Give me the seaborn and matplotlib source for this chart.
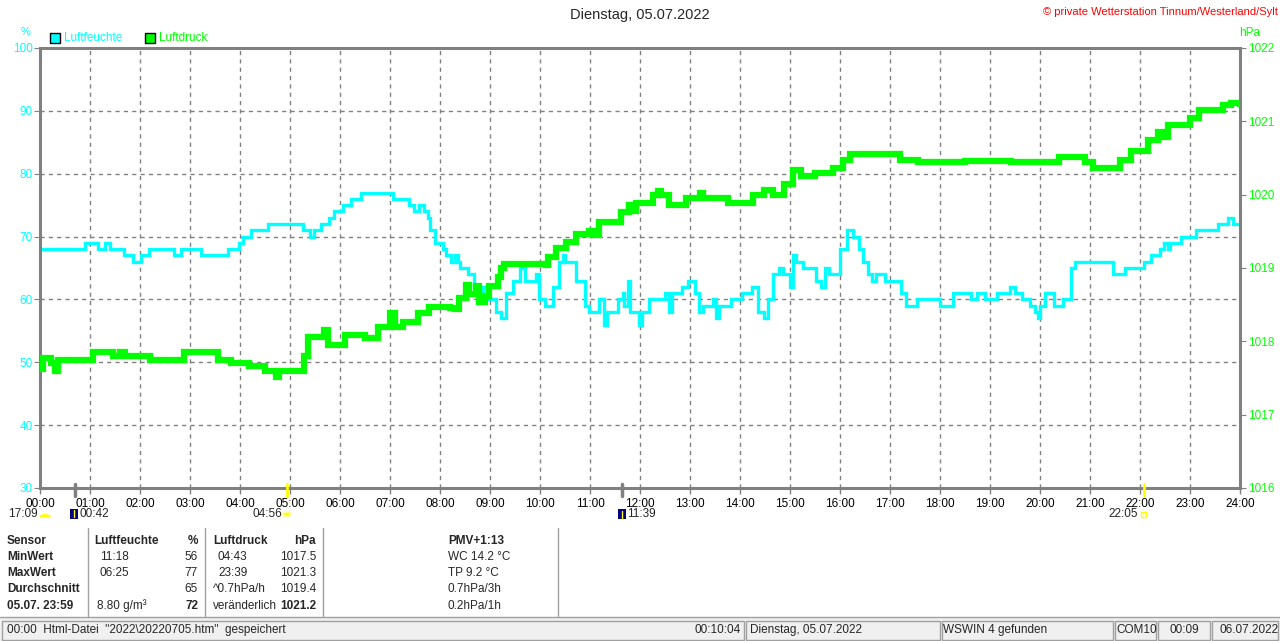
import matplotlib
matplotlib.use("Agg")
import matplotlib.pyplot as plt
import matplotlib.patches as mpatches
from matplotlib.lines import Line2D
import numpy as np
import pandas as pd
import seaborn as sns

# --- data (hours since midnight) ---
hum_hours = [0.0, 0.9, 1.15, 1.3, 1.4, 1.68, 1.86, 2.02, 2.18, 2.68, 2.82, 3.22, 3.75,
             3.98, 4.05, 4.22, 4.55, 5.25, 5.4, 5.48, 5.62, 5.78, 5.88, 6.05, 6.22,
             6.42, 7.05, 7.38, 7.48, 7.58, 7.68, 7.75, 7.8, 7.9, 8.05, 8.12, 8.22,
             8.3, 8.36, 8.4, 8.55, 8.68, 8.78, 8.85, 8.98, 9.12, 9.22, 9.32, 9.45,
             9.6, 9.7, 9.92, 9.97, 10.1, 10.25, 10.38, 10.45, 10.5, 10.72, 10.9,
             10.98, 11.18, 11.28, 11.33, 11.55, 11.65, 11.68, 11.75, 11.8, 11.97,
             12.03, 12.18, 12.5, 12.57, 12.64, 12.84, 12.95, 13.1, 13.18, 13.25,
             13.45, 13.52, 13.57, 13.82, 14.03, 14.23, 14.35, 14.48, 14.55, 14.65,
             14.78, 14.85, 15.0, 15.05, 15.12, 15.25, 15.52, 15.62, 15.7, 15.78,
             16.0, 16.13, 16.25, 16.37, 16.45, 16.55, 16.65, 16.72, 16.9, 17.22,
             17.33, 17.53, 18.0, 18.25, 18.62, 18.73, 18.9, 19.15, 19.4, 19.5,
             19.65, 19.8, 19.9, 19.95, 20.0, 20.1, 20.28, 20.45, 20.62, 20.7,
             21.45, 21.7, 22.08, 22.22, 22.4, 22.48, 22.55, 22.6, 22.82, 23.12,
             23.55, 23.75, 23.85, 24.0]
hum_values = [68, 69, 68, 69, 68, 67, 66, 67, 68, 67, 68, 67, 68,
              69, 70, 71, 72, 71, 70, 71, 72, 73, 74, 75, 76,
              77, 76, 75, 74, 75, 74, 73, 71, 69, 68, 67, 66,
              67, 66, 65, 64, 62, 61, 62, 60, 58, 57, 61, 63,
              65, 63, 64, 60, 59, 62, 66, 67, 66, 63, 59,
              58, 60, 56, 58, 60, 61, 59, 63, 58, 56,
              58, 60, 61, 58, 61, 62, 63, 61, 58, 59,
              60, 57, 59, 60, 61, 62, 58, 57, 60, 64,
              65, 64, 62, 67, 66, 65, 63, 62, 65, 64,
              68, 71, 70, 68, 66, 64, 63, 64, 63, 61,
              59, 60, 59, 61, 60, 61, 60, 61, 62, 61,
              60, 59, 58, 57, 59, 61, 59, 60, 65, 66,
              64, 65, 66, 67, 68, 69, 68, 69, 70, 71,
              72, 73, 72, 72]

press_hours = [0.0, 0.05, 0.22, 0.3, 0.35, 1.05, 1.45, 1.6, 1.7, 2.2, 2.88, 3.55, 3.82,
               4.18, 4.5, 4.72, 4.78, 5.28, 5.35, 5.68, 5.75, 6.1, 6.5, 6.75, 7.0,
               7.1, 7.25, 7.55, 7.78, 8.2, 8.3, 8.38, 8.52, 8.58, 8.72, 8.78, 8.9,
               8.98, 9.15, 9.22, 9.27, 10.12, 10.16, 10.32, 10.52, 10.72, 10.98,
               11.05, 11.18, 11.62, 11.78, 11.85, 11.92, 12.25, 12.35, 12.42, 12.57,
               12.92, 13.2, 13.25, 13.75, 14.25, 14.48, 14.65, 14.88, 15.05, 15.22,
               15.5, 15.85, 16.05, 16.2, 17.2, 17.55, 18.5, 19.42, 20.38, 20.9,
               21.05, 21.6, 21.82, 22.15, 22.35, 22.48, 22.55, 23.0, 23.18, 23.65,
               23.82, 24.0]
press_values = [1017.62, 1017.77, 1017.71, 1017.6, 1017.75, 1017.85, 1017.8, 1017.85,
                1017.8, 1017.75, 1017.85, 1017.75, 1017.7, 1017.66, 1017.6, 1017.52,
                1017.6, 1017.8, 1018.06, 1018.15, 1017.95, 1018.09, 1018.04, 1018.2,
                1018.39, 1018.2, 1018.27, 1018.39, 1018.47, 1018.45, 1018.44, 1018.59,
                1018.77, 1018.65, 1018.75, 1018.54, 1018.62, 1018.75, 1018.88, 1019.0,
                1019.06, 1019.04, 1019.15, 1019.27, 1019.36, 1019.47, 1019.5, 1019.45,
                1019.63, 1019.77, 1019.86, 1019.78, 1019.88, 1020.0, 1020.05, 1020.0,
                1019.86, 1019.95, 1020.02, 1019.95, 1019.88, 1020.0, 1020.06, 1020.0,
                1020.15, 1020.34, 1020.25, 1020.29, 1020.36, 1020.47, 1020.56, 1020.47,
                1020.44, 1020.46, 1020.45, 1020.51, 1020.44, 1020.36, 1020.47, 1020.59,
                1020.75, 1020.86, 1020.78, 1020.95, 1021.04, 1021.15, 1021.22, 1021.25,
                1021.2]

hour_labels = [f"{h:02d}:00" for h in range(25)]
hum_ticks = list(range(30, 101, 10))
press_ticks = list(range(1016, 1023))

table_rows = [
    ["Sensor", "Luftfeuchte", "%", "Luftdruck", "hPa", "PMV+1:13"],
    ["MinWert", "11:18", "56", "04:43", "1017.5", "WC 14.2 °C"],
    ["MaxWert", "06:25", "77", "23:39", "1021.3", "TP 9.2 °C"],
    ["Durchschnitt", "", "65", "^0.7hPa/h", "1019.4", "0.7hPa/3h"],
    ["05.07. 23:59", "8.80 g/m³", "72", "veränderlich", "1021.2", "0.2hPa/1h"],
]

hum_df = pd.DataFrame({"Stunde": hum_hours, "Luftfeuchte": hum_values})
press_df = pd.DataFrame({"Stunde": press_hours, "Luftdruck": press_values})

CYAN = "#00ffff"
GREEN = "#00ff00"
GRAY = "#808080"

sns.set_style("white")
plt.rcParams["font.family"] = ["Liberation Sans", "DejaVu Sans"]

W, H = 1280, 641
fig = plt.figure(figsize=(W / 100, H / 100), dpi=100)
fig.patch.set_facecolor("white")


def fx(x):
    return x / W


def fy(y):
    return 1 - y / H


ax = fig.add_axes([fx(40), fy(488), fx(1240) - fx(40), fy(48) - fy(488)])
ax2 = ax.twinx()

sns.lineplot(data=hum_df, x="Stunde", y="Luftfeuchte", ax=ax, color=CYAN,
             linewidth=2.4, drawstyle="steps-post", estimator=None, sort=False,
             solid_joinstyle="miter", solid_capstyle="butt")
sns.lineplot(data=press_df, x="Stunde", y="Luftdruck", ax=ax2, color=GREEN,
             linewidth=4.5, drawstyle="steps-post", estimator=None, sort=False,
             solid_joinstyle="miter", solid_capstyle="butt")

ax.set_xlim(0, 24)
ax.set_ylim(30, 100)
ax2.set_ylim(1016, 1022)
ax.set_xticks(range(25))
ax.set_xticklabels(hour_labels)
ax.set_yticks(hum_ticks)
ax.set_yticklabels([str(t) for t in hum_ticks])
ax2.set_yticks(press_ticks)
ax2.set_yticklabels([str(t) for t in press_ticks])
ax.set_xlabel("")
ax.set_ylabel("")
ax2.set_ylabel("")

ax.grid(True, color=GRAY, linestyle=(0, (3, 3)), linewidth=1)
ax.tick_params(axis="x", direction="out", length=4, color=GRAY, labelsize=8.5,
               labelcolor="black", pad=3, width=1, bottom=True)
ax.tick_params(axis="y", direction="out", length=4, color=GRAY, labelsize=8.5,
               labelcolor=CYAN, pad=1, left=True)
ax2.tick_params(axis="y", direction="out", length=4, color=GRAY, labelsize=8.5,
                labelcolor=GREEN, pad=2, right=True)
for sp in ax.spines.values():
    sp.set_color(GRAY)
    sp.set_linewidth(2.2)
    sp.set_visible(True)
for sp in ax2.spines.values():
    sp.set_visible(False)

# titles and units
fig.text(0.5, fy(15), "Dienstag, 05.07.2022", ha="center", va="center", fontsize=10.5)
fig.text(fx(1278), fy(12), "© private Wetterstation Tinnum/Westerland/Sylt",
         ha="right", va="center", fontsize=8, color="red")
fig.text(fx(26), fy(32), "%", ha="center", va="center", fontsize=8, color=CYAN)
fig.text(fx(1250), fy(33), "hPa", ha="center", va="center", fontsize=8.5, color=GREEN)

# legend boxes
for x0, col, label in [(50, CYAN, "Luftfeuchte"), (145, GREEN, "Luftdruck")]:
    fig.add_artist(mpatches.Rectangle((fx(x0), fy(43)), fx(10), fy(33) - fy(43),
                                      facecolor=col, edgecolor="black", linewidth=1,
                                      transform=fig.transFigure))
    fig.text(fx(x0 + 14), fy(38), label, ha="left", va="center", fontsize=8.5, color=col)

# moon / sun event ticks under the axis
for x, col, lw in [(75, GRAY, 2.5), (622, GRAY, 2.5), (287, "yellow", 2), (1144, "yellow", 2)]:
    fig.add_artist(Line2D([fx(x), fx(x)], [fy(484), fy(496)], color=col, linewidth=lw,
                          transform=fig.transFigure))

# second label row: moon / sun times
fig.text(fx(38), fy(514), "17:09", ha="right", va="center", fontsize=8.5)
fig.add_artist(mpatches.Wedge((fx(45), fy(517)), 0.0045, 0, 180, facecolor="yellow",
                              edgecolor="none", transform=fig.transFigure))
fig.add_artist(mpatches.Rectangle((fx(70), fy(519)), fx(8), fy(509) - fy(519),
                                  facecolor="#000080", edgecolor="none",
                                  transform=fig.transFigure))
fig.add_artist(Line2D([fx(74), fx(74)], [fy(510), fy(517)], color="yellow", linewidth=1,
                      transform=fig.transFigure))
fig.text(fx(80), fy(514), "00:42", ha="left", va="center", fontsize=8.5)
fig.text(fx(282), fy(514), "04:56", ha="right", va="center", fontsize=8.5)
fig.add_artist(mpatches.Circle((fx(287), fy(514)), 0.0032, facecolor="yellow",
                               edgecolor="#ffff99", linewidth=1.5,
                               transform=fig.transFigure))
fig.add_artist(mpatches.Rectangle((fx(618), fy(519)), fx(8), fy(509) - fy(519),
                                  facecolor="#000080", edgecolor="none",
                                  transform=fig.transFigure))
fig.add_artist(Line2D([fx(622), fx(622)], [fy(511), fy(518)], color="yellow", linewidth=1,
                      transform=fig.transFigure))
fig.text(fx(627), fy(514), "11:39", ha="left", va="center", fontsize=8.5)
fig.text(fx(1138), fy(514), "22:05", ha="right", va="center", fontsize=8.5)
fig.add_artist(mpatches.Rectangle((fx(1141), fy(517)), fx(5), fy(512) - fy(517),
                                  facecolor="none", edgecolor="yellow", linewidth=1,
                                  transform=fig.transFigure))

# info table
row_y = [541, 557, 573, 589, 606]
for i, (row, y) in enumerate(zip(table_rows, row_y)):
    head = i == 0
    fig.text(fx(7), fy(y), row[0], ha="left", va="center", fontsize=8.5, fontweight="bold")
    fig.text(fx(94 if head else 100 if i < 4 else 97), fy(y), row[1], ha="left",
             va="center", fontsize=8.5, fontweight="bold" if head else "normal")
    fig.text(fx(198), fy(y), row[2], ha="right", va="center", fontsize=8.5,
             fontweight="bold" if head or i == 4 else "normal")
    fig.text(fx(213 if i in (0, 3, 4) else 218), fy(y), row[3], ha="left", va="center",
             fontsize=8.5, fontweight="bold" if head else "normal")
    fig.text(fx(316), fy(y), row[4], ha="right", va="center", fontsize=8.5,
             fontweight="bold" if head or i == 4 else "normal")
    fig.text(fx(448), fy(y), row[5], ha="left", va="center", fontsize=8.5,
             fontweight="bold" if head else "normal")
for x in [88, 205, 323, 558]:
    fig.add_artist(Line2D([fx(x), fx(x)], [fy(528), fy(616)], color="#a0a0a0",
                          linewidth=1, transform=fig.transFigure))

# status bar
fig.add_artist(mpatches.Rectangle((0, 0), 1, fy(618), facecolor="#f0f0f0",
                                  edgecolor="none", transform=fig.transFigure))
fig.add_artist(Line2D([0, 1], [fy(617), fy(617)], color="#a0a0a0", linewidth=1,
                      transform=fig.transFigure))
panels = [(2, 744), (746, 940), (942, 1113), (1115, 1156), (1158, 1210), (1212, 1278)]
for x0, x1 in panels:
    fig.add_artist(mpatches.Rectangle((fx(x0), fy(640)), fx(x1 - x0), fy(621) - fy(640),
                                      facecolor="none", edgecolor="#a0a0a0", linewidth=1,
                                      transform=fig.transFigure))
status = [
    (7, "left", '00:00  Html-Datei  "2022\\20220705.htm"  gespeichert'),
    (741, "right", "00:10:04"),
    (750, "left", "Dienstag, 05.07.2022"),
    (943, "left", "WSWIN 4 gefunden"),
    (1116, "left", "COM10"),
    (1184, "center", "00:09"),
    (1219, "left", "06.07.2022"),
]
for x, ha, txt in status:
    fig.text(fx(x), fy(630), txt, ha=ha, va="center", fontsize=8.5)

fig.savefig("out.png", dpi=100)
